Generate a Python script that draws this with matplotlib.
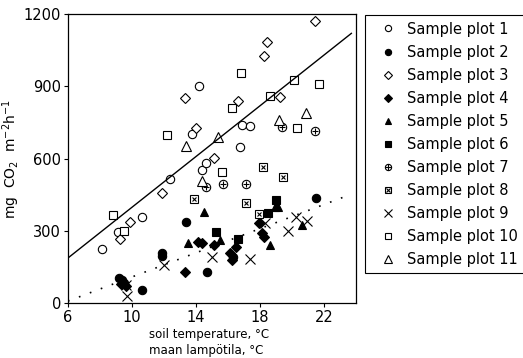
import matplotlib.pyplot as plt

# Sample plot data: soil temperature (°C) vs. CO2 flux (mg CO2 m-2 h-1)
p1_x = [8.1, 9.1, 10.6, 12.4, 13.75, 14.2, 14.4, 14.6, 16.75, 16.9, 17.4]
p1_y = [226, 295, 357, 515, 700, 901, 552, 581, 648, 740, 735]
p2_x = [9.2, 9.4, 9.5, 10.6, 11.9, 11.9, 13.4, 14.7, 16.3, 21.5]
p2_y = [105, 95, 85, 54, 208, 195, 338, 129, 190, 436]
p3_x = [9.25, 9.9, 11.9, 13.3, 14.0, 15.1, 16.6, 18.25, 18.4, 19.25, 21.4]
p3_y = [266, 338, 457, 851, 727, 604, 839, 1026, 1084, 855, 1171]
p4_x = [9.3, 9.6, 13.3, 14.1, 14.4, 15.1, 16.1, 16.25, 16.5, 17.9, 18.1, 18.25]
p4_y = [80, 70, 129, 253, 249, 241, 208, 180, 233, 332, 291, 276]
p5_x = [13.5, 14.5, 15.5, 18.6, 18.9, 19.1, 20.6]
p5_y = [249, 376, 262, 241, 399, 399, 326]
p6_x = [15.25, 16.6, 18.5, 19.0]
p6_y = [293, 266, 372, 428]
p7_x = [14.6, 15.7, 17.1, 19.35, 21.4]
p7_y = [480, 494, 494, 731, 716]
p8_x = [13.9, 17.1, 17.9, 18.2, 19.4]
p8_y = [430, 417, 368, 565, 525]
p9_x = [9.6, 9.7, 12.0, 15.0, 17.4, 18.3, 19.75, 20.25, 20.9]
p9_y = [75, 29, 158, 191, 183, 332, 299, 357, 340]
p10_x = [8.8, 9.5, 12.2, 15.6, 16.25, 16.8, 18.6, 20.1, 20.3, 21.7]
p10_y = [365, 299, 698, 546, 812, 955, 859, 926, 729, 909]
p11_x = [13.4, 14.4, 15.35, 19.2, 20.85]
p11_y = [652, 507, 691, 760, 791]

# regression lines (end points)
fit_x = [6, 23.7]
fit_upper = [187, 1120]
fit_lower = [8, 452]

labels = ['Sample plot %d' % i for i in range(1, 12)]

fig = plt.figure(figsize=(5.23, 3.58), dpi=100)
ax = fig.add_axes([0.130, 0.1536, 0.551, 0.807])

ms = 6
k = dict(color='black', linestyle='none', markersize=ms, markeredgewidth=0.8)
open_k = dict(k, markerfacecolor='white')

h1, = ax.plot(p1_x, p1_y, 'o', **open_k)
h2, = ax.plot(p2_x, p2_y, 'o', **k)
h3, = ax.plot(p3_x, p3_y, 'D', **dict(open_k, markersize=ms - 0.5))
h4, = ax.plot(p4_x, p4_y, 'D', **dict(k, markersize=ms - 0.5))
h5, = ax.plot(p5_x, p5_y, '^', **k)
h6, = ax.plot(p6_x, p6_y, 's', **dict(k, markersize=ms - 0.5))
h7a, = ax.plot(p7_x, p7_y, 'o', **open_k)
h7b, = ax.plot(p7_x, p7_y, '+', **dict(k, markersize=ms - 1))
h8a, = ax.plot(p8_x, p8_y, 's', **dict(open_k, markersize=ms - 0.5))
h8b, = ax.plot(p8_x, p8_y, 'x', **dict(k, markersize=ms - 3))
h9, = ax.plot(p9_x, p9_y, 'x', **dict(k, markersize=ms + 1))
h10, = ax.plot(p10_x, p10_y, 's', **open_k)
h11, = ax.plot(p11_x, p11_y, '^', **dict(open_k, markersize=ms + 1))

ax.plot(fit_x, fit_upper, color='black', lw=1.0)
ax.plot(fit_x, fit_lower, color='black', lw=1.2, linestyle=(0, (1, 6)))

ax.set_xlim(6, 24)
ax.set_ylim(0, 1200)
ax.set_xticks([6, 10, 14, 18, 22])
ax.set_yticks([0, 300, 600, 900, 1200])
ax.tick_params(direction='out', length=3, width=0.8, labelsize=10.5, pad=2)
for s in ax.spines.values():
    s.set_linewidth(0.9)

ax.set_ylabel('mg  CO$_2$  m$^{-2}$h$^{-1}$', fontsize=10)
ax.yaxis.set_label_coords(-0.16, 0.5)
fig.text(0.285, 0.067, 'soil temperature, °C', fontsize=8.5, va='center')
fig.text(0.285, 0.022, 'maan lampötila, °C', fontsize=8.5, va='center')

handles = [h1, h2, h3, h4, h5, h6, (h7a, h7b), (h8a, h8b), h9, h10, h11]
leg = fig.legend(handles, labels, loc='upper left',
                 bbox_to_anchor=(0.698, 0.958, 0.35, 0.0), mode='expand',
                 fontsize=10.5, markerscale=0.75, handlelength=2.3,
                 handletextpad=0.1, labelspacing=0.55, borderpad=0.45,
                 borderaxespad=0, fancybox=False, framealpha=1)
leg.get_frame().set_edgecolor('black')
leg.get_frame().set_linewidth(0.8)

fig.savefig('out.png', dpi=100)
